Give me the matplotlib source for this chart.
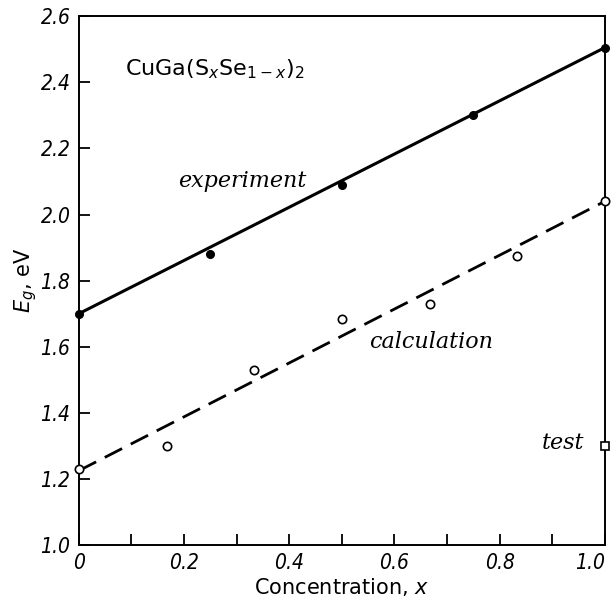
import numpy as np
from matplotlib import pyplot as plt

# 实验数据（实心点）
x_exp = [0.0, 0.25, 0.5, 0.75, 1.0]
eg_exp = [1.70, 1.88, 2.09, 2.30, 2.505]
fit_exp = [1.70, 2.505]

# 计算数据（空心点）
x_calc = [0.0, 0.167, 0.333, 0.5, 0.667, 0.833, 1.0]
eg_calc = [1.23, 1.30, 1.53, 1.683, 1.73, 1.875, 2.04]
fit_calc = [1.225, 2.04]

# test 点
x_test = [1.0]
eg_test = [1.30]

x_ticks = [0.0, 0.1, 0.2, 0.3, 0.4, 0.5, 0.6, 0.7, 0.8, 0.9, 1.0]
x_labels = ['0', '', '0.2', '', '0.4', '', '0.6', '', '0.8', '', '1.0']
y_ticks = [1.0, 1.2, 1.4, 1.6, 1.8, 2.0, 2.2, 2.4, 2.6]
y_labels = ['1.0', '1.2', '1.4', '1.6', '1.8', '2.0', '2.2', '2.4', '2.6']

plt.rcParams['mathtext.fontset'] = 'dejavusans'

fig = plt.figure(figsize=(6.11, 5.99), dpi=100)
ax = fig.add_axes([0.129, 0.09, 0.861, 0.883])

# 拟合直线
ax.plot([0, 1], fit_exp, color='black', lw=2.2, solid_capstyle='butt', zorder=2)
ax.plot([0, 1], fit_calc, color='black', lw=2.0, dashes=(7, 3.5), zorder=2)

# 数据点
ax.plot(x_exp, eg_exp, 'o', color='black', ms=5.5, zorder=3, clip_on=False)
ax.plot(x_calc, eg_calc, 'o', mfc='white', mec='black', mew=1.2, ms=6,
        zorder=3, clip_on=False)
ax.plot(x_test, eg_test, 's', mfc='white', mec='black', mew=1.2, ms=6,
        zorder=3, clip_on=False)

ax.set_xlim(0, 1.0)
ax.set_ylim(1.0, 2.6)
ax.set_xticks(x_ticks)
ax.set_xticklabels(x_labels, fontsize=15, style='italic', stretch='condensed')
ax.set_yticks(y_ticks)
ax.set_yticklabels(y_labels, fontsize=15, style='italic', stretch='condensed')
ax.tick_params(direction='in', length=8, width=1.3, pad=6)
ax.get_xticklabels()[-1].set_ha('right')

for sp in ax.spines.values():
    sp.set_linewidth(1.4)

# 文字标注
ax.text(0.087, 2.44, r'CuGa(S$_x$Se$_{1-x}$)$_2$', fontsize=16,
        ha='left', va='center')
ax.text(0.31, 2.10, 'experiment', fontsize=16, style='italic',
        family='DejaVu Serif', ha='center', va='center')
ax.text(0.669, 1.615, 'calculation', fontsize=16, style='italic',
        family='DejaVu Serif', ha='center', va='center')
ax.text(0.92, 1.31, 'test', fontsize=16, style='italic',
        family='DejaVu Serif', ha='center', va='center')

ax.set_xlabel(r'Concentration, $x$', fontsize=15, labelpad=2)
ax.set_ylabel(r'$E_g$, eV', fontsize=15)
ax.yaxis.set_label_coords(-0.076, 0.5)

plt.savefig('out.png', dpi=100)
